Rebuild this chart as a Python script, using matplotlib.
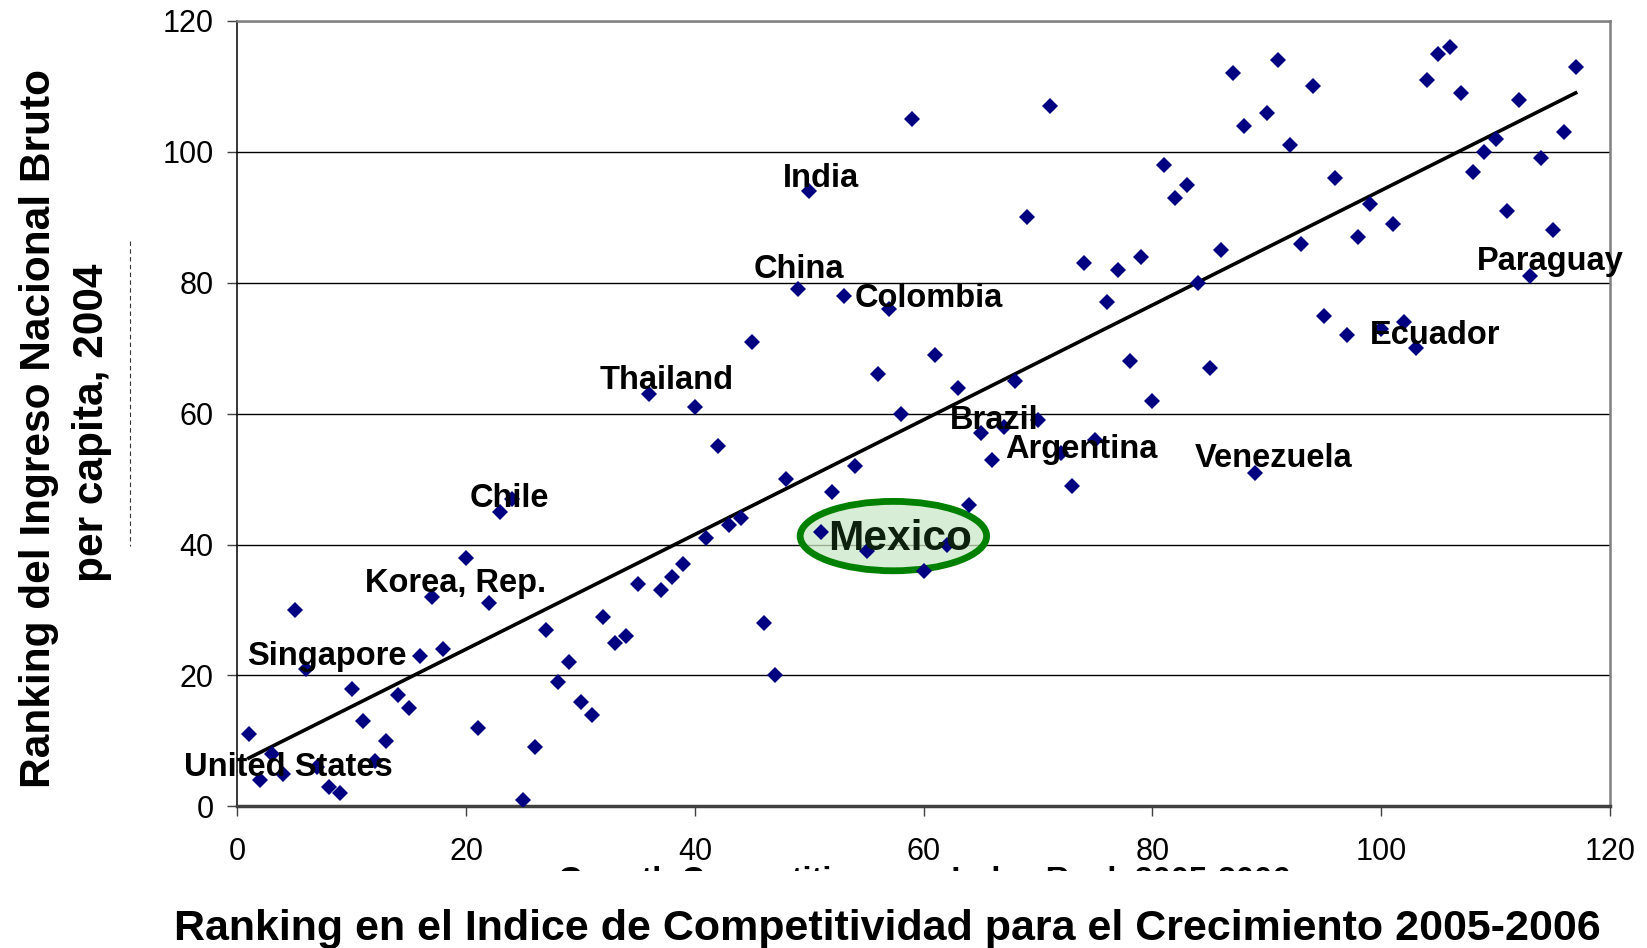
import numpy as np
import matplotlib
matplotlib.use("Agg")
import matplotlib.pyplot as plt
from matplotlib.patches import Ellipse, Rectangle
from matplotlib.lines import Line2D

plt.rcParams['font.family'] = ['Liberation Sans', 'DejaVu Sans']

# Ranking GCI 2005-2006 (x) vs ranking GNI per capita 2004 (y)
gci_rank = [1, 2, 3, 4, 5, 6, 7, 8, 9, 10, 11, 12, 13, 14, 15, 16, 17, 18,
            20, 21, 22, 23, 24, 25, 26, 27, 28, 29, 30, 31, 32, 33, 34, 35,
            36, 37, 38, 39, 40, 41, 42, 43, 44, 45, 46, 47, 48, 49, 50, 51,
            52, 53, 54, 55, 56, 57, 58, 59, 60, 61, 62, 63, 64, 65, 66, 67,
            68, 69, 70, 71, 72, 73, 74, 75, 76, 77, 78, 79, 80, 81, 82, 83,
            84, 85, 86, 87, 88, 89, 90, 91, 92, 93, 94, 95, 96, 97, 98, 99,
            100, 101, 102, 103, 104, 105, 106, 107, 108, 109, 110, 111, 112,
            113, 114, 115, 116, 117]
gni_rank = [11, 4, 8, 5, 30, 21, 6, 3, 2, 18, 13, 7, 10, 17, 15, 23, 32, 24,
            38, 12, 31, 45, 47, 1, 9, 27, 19, 22, 16, 14, 29, 25, 26, 34,
            63, 33, 35, 37, 61, 41, 55, 43, 44, 71, 28, 20, 50, 79, 94, 42,
            48, 78, 52, 39, 66, 76, 60, 105, 36, 69, 40, 64, 46, 57, 53, 58,
            65, 90, 59, 107, 54, 49, 83, 56, 77, 82, 68, 84, 62, 98, 93, 95,
            80, 67, 85, 112, 104, 51, 106, 114, 101, 86, 110, 75, 96, 72, 87, 92,
            73, 89, 74, 70, 111, 115, 116, 109, 97, 100, 102, 91, 108,
            81, 99, 88, 103, 113]

# country labels and where they sit on the chart
label_names = ["India", "China", "Colombia", "Thailand", "Brazil", "Argentina",
               "Venezuela", "Ecuador", "Paraguay", "Chile", "Korea, Rep.",
               "Singapore", "United States"]
label_x = [51.0, 49.1, 60.4, 37.5, 66.2, 73.8, 90.6, 104.7, 114.8, 23.8, 19.1, 7.8, 4.5]
label_y = [94.7, 80.8, 76.3, 63.7, 57.7, 53.2, 51.9, 70.7, 81.9, 45.7, 32.7, 21.6, 4.6]

x = np.array(gci_rank)
y = np.array(gni_rank)

fig = plt.figure(figsize=(16.47, 9.48), dpi=100)
ax = fig.add_axes([0.14414, 0.14937, 0.8334, 0.8285])

ax.set_axisbelow(True)
ax.grid(axis='y', color='black', linewidth=1.0)
ax.set_xlim(0, 120)
ax.set_ylim(0, 120)
ax.set_xticks(range(0, 121, 20))
ax.set_yticks(range(0, 121, 20))
ax.tick_params(axis='both', direction='out', length=7, width=1, color='#404040',
               labelsize=22)
ax.tick_params(axis='x', pad=15)
ax.tick_params(axis='y', pad=10)

ax.spines['left'].set_color('black')
ax.spines['left'].set_linewidth(1.1)
ax.spines['bottom'].set_color('#404040')
ax.spines['bottom'].set_linewidth(2.5)
for s in ['top', 'right']:
    ax.spines[s].set_color('#808080')
    ax.spines[s].set_linewidth(1.8)

# Mexico highlight
ell = Ellipse((57.35, 41.3), 16.3, 10.6, facecolor=(0.80, 0.91, 0.78, 0.75),
              edgecolor='#008000', linewidth=4.9, zorder=2.5)
ax.add_patch(ell)

ax.plot(x, y, linestyle='none', marker='D', markersize=8, color='#000080',
        markeredgewidth=0, zorder=3)

# linear trend line
coef = np.polyfit(x, y, 1)
xt = np.array([x.min(), x.max()])
ax.plot(xt, np.polyval(coef, xt), color='black', linewidth=2.6, zorder=2.8)

for name, lx, ly in zip(label_names, label_x, label_y):
    ax.text(lx, ly, name, ha='center', va='baseline', fontsize=23.5,
            fontweight='bold', zorder=5)
ax.text(57.9, 39.1, "Mexico", ha='center', va='baseline', fontsize=30.5,
        fontweight='bold', color='#0d200d', zorder=5)

# leftover english axis title, mostly covered
fig.text(0.5610, 1 - 866 / 948, "Growth Competitiveness Index Rank 2005-2006",
         ha='center', va='top', fontsize=23.5, fontweight='bold', zorder=1)
fig.add_artist(Rectangle((0, 0), 1, 1 - 871 / 948, transform=fig.transFigure,
                         facecolor='white', edgecolor='none', zorder=2))
# remains of the old y title
fig.add_artist(Line2D([130 / 1647, 130 / 1647], [1 - 241 / 948, 1 - 546 / 948],
                      transform=fig.transFigure, color='#333333', linewidth=0.8,
                      linestyle=(0, (4, 3)), zorder=1))

fig.text(887.6 / 1647, 1 - 940 / 948,
         "Ranking en el Indice de Competitividad para el Crecimiento 2005-2006",
         ha='center', va='baseline', fontsize=31, fontweight='bold', zorder=3)
fig.text(39 / 1647, 1 - 429 / 948, "Ranking del Ingreso Nacional Bruto",
         rotation=90, ha='center', va='center', fontsize=30.5, fontweight='bold', zorder=3)
fig.text(92.4 / 1647, 1 - 422.6 / 948, "per capita, 2004",
         rotation=90, ha='center', va='center', fontsize=30.5, fontweight='bold', zorder=3)

fig.savefig('out.png', dpi=100)
